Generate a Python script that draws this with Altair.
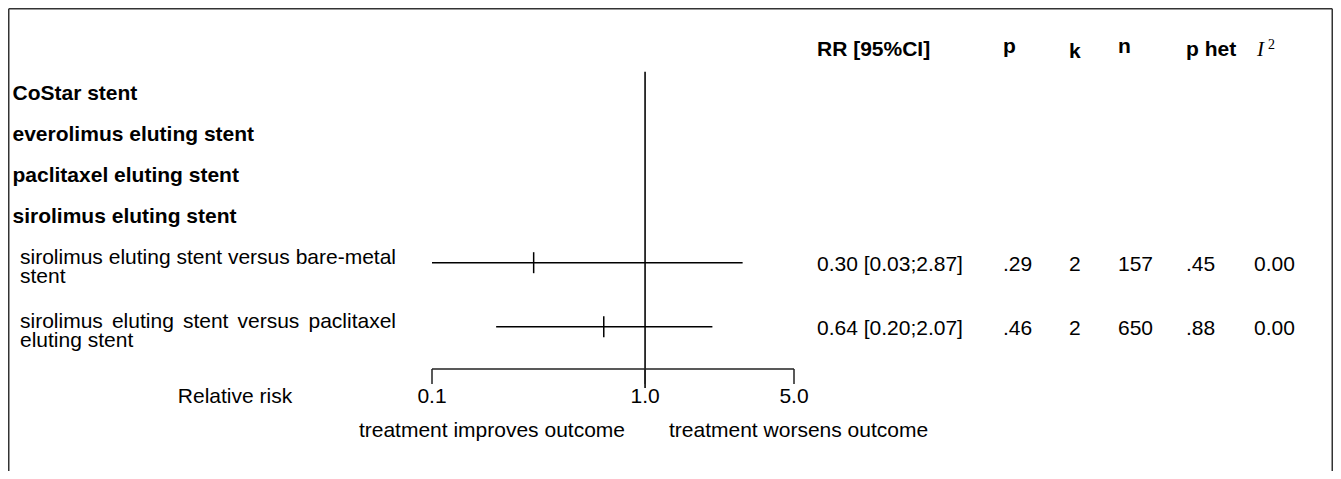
import altair as alt
import pandas as pd

# ---------------- data ----------------
GROUPS = ["CoStar stent", "everolimus eluting stent",
          "paclitaxel eluting stent", "sirolimus eluting stent"]
STUDY_LABELS = ["sirolimus eluting stent versus bare-metal\nstent",
                "sirolimus eluting stent versus paclitaxel\neluting stent"]
RR = [0.30, 0.64]
CI_LOW = [0.03, 0.20]
CI_HIGH = [2.87, 2.07]
P_VALUES = [".29", ".46"]
K_STUDIES = [2, 2]
N_PATIENTS = [157, 650]
P_HET = [".45", ".88"]
I2_VALUES = ["0.00", "0.00"]
HEADERS = ["RR [95%CI]", "p", "k", "n", "p het"]
AXIS_TICKS = [0.1, 1.0, 5.0]
AXIS_TICK_LABELS = ["0.1", "1.0", "5.0"]
AXIS_TITLE = "Relative risk"
LEFT_NOTE = "treatment improves outcome"
RIGHT_NOTE = "treatment worsens outcome"

# ---------------- layout (chart pixel coordinates) ----------------
FONT = "Liberation Sans"
SERIF = "Liberation Serif"
FS = 21
W, H = 1325, 463
COL_X = [809, 995, 1061, 1110, 1178, 1246]          # text columns
HEAD_Y = [48, 44.5, 49.5, 45, 48]                     # header baselines
GROUP_Y = [92, 132.5, 174, 214.5]                     # group label baselines
GROUP_X = 4.5
STUDY_X = 12
LABEL_BOX_W = 376                                     # justified label width
LINE_H = 19
ROW_RANGE = [254.7, 318.7]                            # y of row 0 / row 1
REF_Y = [63.7, 380]
AXIS_Y = 361
TICK_LEN = 15
LABEL_Y = 395
NOTE_Y = 429

# Arial / Liberation Sans advance widths (per 1000 em) used for justification
_AW = {" ": 278, "a": 556, "b": 556, "c": 500, "e": 556, "g": 556, "i": 222,
       "l": 222, "m": 833, "n": 556, "o": 556, "p": 556, "r": 333, "s": 500,
       "t": 278, "u": 556, "v": 500, "x": 500, "-": 333}


def text_w(s):
    return sum(_AW.get(c, 556) for c in s) * FS / 1000.0


xs = alt.Scale(type="log", domain=[0.1, 5.0], range=[424, 786], clamp=True, nice=False)
ys = alt.Scale(domain=[0, 1], range=ROW_RANGE, zero=False, nice=False)

rows = pd.DataFrame({
    "row": list(range(len(RR))),
    "est": RR, "lo": CI_LOW, "hi": CI_HIGH,
    "p": P_VALUES, "k": [str(v) for v in K_STUDIES], "n": [str(v) for v in N_PATIENTS],
    "phet": P_HET, "i2": I2_VALUES,
})
rows["rr"] = [f"{e:.2f} [{l:.2f};{h:.2f}]" for e, l, h in zip(RR, CI_LOW, CI_HIGH)]

layers = []
frame_col = "#333333"
# frame (left, top, right)
one = pd.DataFrame({"d": [0]})
layers.append(alt.Chart(one).mark_rule(color=frame_col, strokeWidth=1.5).encode(
    x=alt.value(0.75), y=alt.value(0.75), y2=alt.value(480)))
layers.append(alt.Chart(one).mark_rule(color=frame_col, strokeWidth=1.5).encode(
    x=alt.value(0.75), x2=alt.value(W - 0.75), y=alt.value(0.75)))
layers.append(alt.Chart(one).mark_rule(color=frame_col, strokeWidth=1.5).encode(
    x=alt.value(W - 0.75), y=alt.value(0.75), y2=alt.value(480)))

# headers
for h, x, y in zip(HEADERS, COL_X, HEAD_Y):
    layers.append(alt.Chart(pd.DataFrame({"t": [h]})).mark_text(
        font=FONT, fontSize=FS, fontWeight="bold", align="left", baseline="alphabetic",
        color="black").encode(x=alt.value(x), y=alt.value(y), text="t:N"))
layers.append(alt.Chart(pd.DataFrame({"t": ["I"]})).mark_text(
    font=SERIF, fontSize=21, fontStyle="italic", align="left", baseline="alphabetic",
    color="black").encode(x=alt.value(COL_X[5] + 3), y=alt.value(48), text="t:N"))
layers.append(alt.Chart(pd.DataFrame({"t": ["2"]})).mark_text(
    font=SERIF, fontSize=14, align="left", baseline="alphabetic",
    color="black").encode(x=alt.value(COL_X[5] + 14), y=alt.value(41), text="t:N"))

# group labels
for g, y in zip(GROUPS, GROUP_Y):
    layers.append(alt.Chart(pd.DataFrame({"t": [g]})).mark_text(
        font=FONT, fontSize=FS, fontWeight="bold", align="left", baseline="alphabetic",
        color="black").encode(x=alt.value(GROUP_X), y=alt.value(y), text="t:N"))

# study labels (justified paragraph: all lines but the last are stretched)
for r, label in enumerate(STUDY_LABELS):
    lines = label.split("\n")
    for li, line in enumerate(lines):
        dy = 1 + li * LINE_H
        words = line.split(" ")
        if li < len(lines) - 1 and len(words) > 1:
            wsum = sum(text_w(w) for w in words)
            gap = max((LABEL_BOX_W - wsum) / (len(words) - 1), text_w(" "))
            x = STUDY_X
            for w in words:
                layers.append(alt.Chart(pd.DataFrame({"row": [r], "t": [w]})).mark_text(
                    font=FONT, fontSize=FS, align="left", baseline="alphabetic", dy=dy,
                    color="black").encode(
                    x=alt.value(round(x, 2)), y=alt.Y("row:Q", scale=ys, axis=None),
                    text="t:N"))
                x += text_w(w) + gap
        else:
            layers.append(alt.Chart(pd.DataFrame({"row": [r], "t": [line]})).mark_text(
                font=FONT, fontSize=FS, align="left", baseline="alphabetic", dy=dy,
                color="black").encode(
                x=alt.value(STUDY_X), y=alt.Y("row:Q", scale=ys, axis=None), text="t:N"))

# reference line at RR = 1
layers.append(alt.Chart(pd.DataFrame({"v": [1.0]})).mark_rule(
    color="#222222", strokeWidth=1.8).encode(
    x=alt.X("v:Q", scale=xs, axis=None), y=alt.value(REF_Y[0]), y2=alt.value(REF_Y[1])))

# confidence intervals
layers.append(alt.Chart(rows).mark_rule(color="black", strokeWidth=1.5).encode(
    x=alt.X("lo:Q", scale=xs, axis=None), x2="hi:Q",
    y=alt.Y("row:Q", scale=ys, axis=None)))
# point estimates
layers.append(alt.Chart(rows).mark_rule(color="black", strokeWidth=1.5,
                                         yOffset=-10.5, y2Offset=10.5).encode(
    x=alt.X("est:Q", scale=xs, axis=None),
    y=alt.Y("row:Q", scale=ys, axis=None), y2="row:Q"))

# axis
ax = pd.DataFrame({"a": [AXIS_TICKS[0]], "b": [AXIS_TICKS[-1]]})
layers.append(alt.Chart(ax).mark_rule(color="#222222", strokeWidth=1.5).encode(
    x=alt.X("a:Q", scale=xs, axis=None), x2="b:Q", y=alt.value(AXIS_Y)))
ticks = pd.DataFrame({"v": AXIS_TICKS, "lab": AXIS_TICK_LABELS})
layers.append(alt.Chart(ticks).mark_rule(color="#222222", strokeWidth=1.5).encode(
    x=alt.X("v:Q", scale=xs, axis=None), y=alt.value(AXIS_Y), y2=alt.value(AXIS_Y + TICK_LEN)))
layers.append(alt.Chart(ticks).mark_text(
    font=FONT, fontSize=FS, align="center", baseline="alphabetic", color="black").encode(
    x=alt.X("v:Q", scale=xs, axis=None), y=alt.value(LABEL_Y), text="lab:N"))
layers.append(alt.Chart(pd.DataFrame({"t": [AXIS_TITLE]})).mark_text(
    font=FONT, fontSize=FS, align="center", baseline="alphabetic", color="black").encode(
    x=alt.value(227), y=alt.value(LABEL_Y), text="t:N"))
layers.append(alt.Chart(pd.DataFrame({"t": [LEFT_NOTE]})).mark_text(
    font=FONT, fontSize=FS, align="right", baseline="alphabetic", color="black").encode(
    x=alt.value(617), y=alt.value(NOTE_Y), text="t:N"))
layers.append(alt.Chart(pd.DataFrame({"t": [RIGHT_NOTE]})).mark_text(
    font=FONT, fontSize=FS, align="left", baseline="alphabetic", color="black").encode(
    x=alt.value(661), y=alt.value(NOTE_Y), text="t:N"))

# value columns
for field, x in zip(["rr", "p", "k", "n", "phet", "i2"], COL_X):
    layers.append(alt.Chart(rows).mark_text(
        font=FONT, fontSize=FS, align="left", baseline="alphabetic", dy=8.5,
        color="black").encode(
        x=alt.value(x), y=alt.Y("row:Q", scale=ys, axis=None), text=f"{field}:N"))

chart = alt.layer(*layers).properties(
    width=W, height=H, autosize="none", padding=0, background="white"
).configure_view(stroke=None)

chart.save("out.html", embed_options={"renderer": "svg", "actions": False})
